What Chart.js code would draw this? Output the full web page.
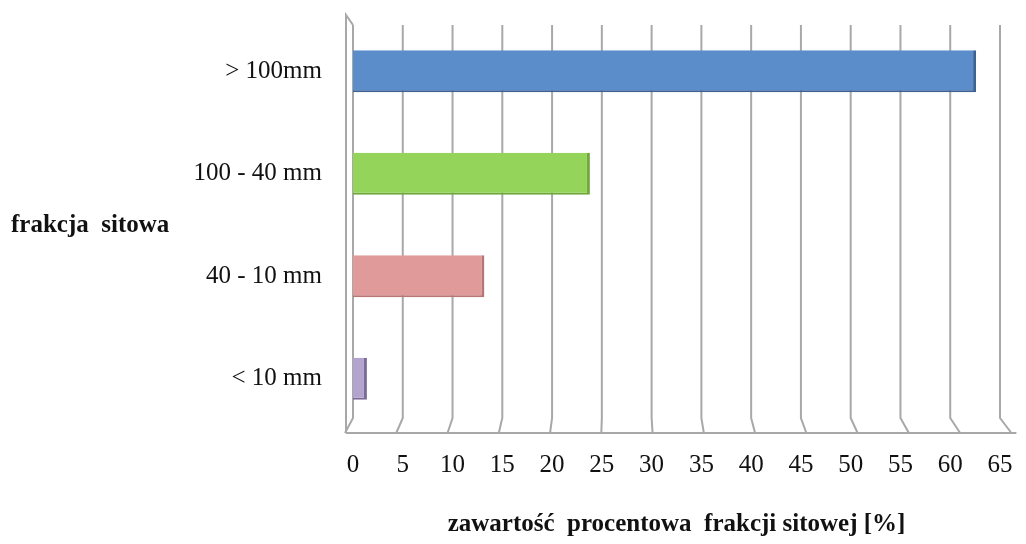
<!DOCTYPE html>
<html>
<head>
<meta charset="utf-8">
<script src="https://cdn.jsdelivr.net/npm/chart.js@4"></script>
<style>
  html, body { margin: 0; padding: 0; background: #fff; }
  #wrap { width: 1026px; height: 544px; position: relative; }
</style>
</head>
<body>
<div id="wrap"><canvas id="chart" width="1026" height="544"></canvas></div>
<script>
/* sieve fractions — share in % */
const CATEGORIES = ['> 100mm', '100 - 40 mm', '40 - 10 mm', '< 10 mm'];
const VALUES = [62.6, 23.8, 13.2, 1.4];
const FILLS = ['#5b8dcb', '#95d45a', '#e09a9a', '#b3a3cf'];
const EDGES = ['#3d6294', '#6fa83c', '#b77575', '#7c6b97'];
const X_TITLE = 'zawartość  procentowa  frakcji sitowej [%]';
const Y_TITLE = 'frakcja  sitowa';

const SERIF = '"Liberation Serif", "DejaVu Serif", serif';
const GRID = '#a8a8a8';

// front plane is a bit wider than the plane the grid sits on (fake 3D)
const front = (x, x0) => x0 - 8 + (x - x0) * 1.03;

// grid walls + floor, Excel 3D look
const wallsPlugin = {
  id: 'walls',
  beforeDatasetsDraw(chart) {
    const { ctx, chartArea: a, scales: { x } } = chart;
    const x0 = x.getPixelForValue(0);
    const bend = 12;
    ctx.save();
    ctx.strokeStyle = GRID;
    ctx.lineWidth = 2;
    ctx.beginPath();
    x.ticks.forEach(t => {
      const px = x.getPixelForValue(t.value);
      ctx.moveTo(px, a.top + 5);
      ctx.lineTo(px, a.bottom - bend);
      ctx.lineTo(front(px, x0), a.bottom + 3);
    });
    // left wall
    ctx.moveTo(x0, a.top + 5);
    ctx.lineTo(x0 - 7, a.top - 5);
    ctx.lineTo(x0 - 7, a.bottom + 3);
    // floor
    ctx.moveTo(x0 - 7, a.bottom + 3);
    ctx.lineTo(front(x.getPixelForValue(65), x0) + 5, a.bottom + 3);
    ctx.stroke();
    ctx.restore();
  },
  afterDraw(chart) {
    const { ctx, chartArea: a } = chart;
    ctx.save();
    ctx.font = 'bold 25px ' + SERIF;
    ctx.fillStyle = '#111';
    ctx.textAlign = 'left';
    ctx.textBaseline = 'middle';
    ctx.fillText(Y_TITLE, 11, (a.top + a.bottom) / 2 + 1);
    ctx.restore();
  }
};

new Chart(document.getElementById('chart'), {
  type: 'bar',
  data: {
    labels: CATEGORIES,
    datasets: [{
      data: VALUES,
      backgroundColor: FILLS,
      borderColor: EDGES,
      borderWidth: { top: 0, left: 0, right: 3, bottom: 2 },
      borderSkipped: false,
      barPercentage: 0.82,
      categoryPercentage: 0.5
    }]
  },
  options: {
    indexAxis: 'y',
    responsive: false,
    animation: false,
    layout: { padding: { top: 20, right: 26, bottom: 4, left: 0 } },
    plugins: {
      legend: { display: false },
      tooltip: { enabled: false }
    },
    scales: {
      x: {
        min: 0, max: 65,
        ticks: { stepSize: 5, color: '#111', font: { family: SERIF, size: 25 }, padding: 20 },
        grid: { display: false, drawTicks: false },
        border: { display: false },
        title: { display: true, text: X_TITLE, color: '#111', font: { family: SERIF, size: 25, weight: 'bold' }, padding: { top: 20, bottom: 0 } },
        afterFit: s => { s.height = 110; s.paddingRight = 0; }
      },
      y: {
        ticks: { color: '#111', font: { family: SERIF, size: 25 }, padding: 31 },
        grid: { display: false, drawTicks: false },
        border: { display: false },
        afterFit: s => { s.width = 353; s.paddingTop = 0; s.paddingBottom = 0; }
      }
    }
  },
  plugins: [wallsPlugin]
});
</script>
</body>
</html>
